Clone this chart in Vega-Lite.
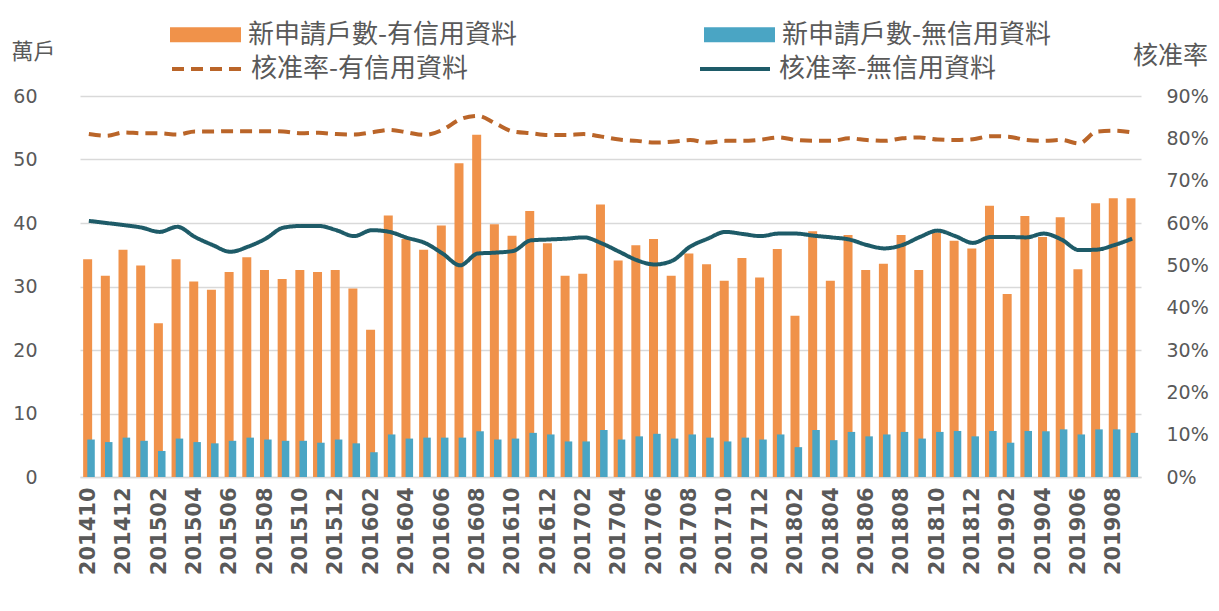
{
  "$schema": "https://vega.github.io/schema/vega-lite/v6.json",
  "width": 1061,
  "height": 381,
  "autosize": {"type": "none"},
  "padding": {"left": 80, "top": 96, "right": 78, "bottom": 134},
  "background": "white",
  "config": {"view": {"stroke": null}, "font": "Noto Sans CJK TC"},
  "data": {"values": [
    {"month":"201410","credit_apps":34.3,"nocredit_apps":5.9,"credit_rate":81.0,"nocredit_rate":60.5},
    {"month":"201411","credit_apps":31.7,"nocredit_apps":5.5,"credit_rate":80.6,"nocredit_rate":60.0},
    {"month":"201412","credit_apps":35.8,"nocredit_apps":6.2,"credit_rate":81.4,"nocredit_rate":59.5},
    {"month":"201501","credit_apps":33.3,"nocredit_apps":5.7,"credit_rate":81.2,"nocredit_rate":58.9},
    {"month":"201502","credit_apps":24.2,"nocredit_apps":4.1,"credit_rate":81.2,"nocredit_rate":57.9},
    {"month":"201503","credit_apps":34.3,"nocredit_apps":6.05,"credit_rate":80.9,"nocredit_rate":59.1},
    {"month":"201504","credit_apps":30.8,"nocredit_apps":5.5,"credit_rate":81.6,"nocredit_rate":56.7},
    {"month":"201505","credit_apps":29.5,"nocredit_apps":5.3,"credit_rate":81.6,"nocredit_rate":54.8},
    {"month":"201506","credit_apps":32.3,"nocredit_apps":5.7,"credit_rate":81.7,"nocredit_rate":53.2},
    {"month":"201507","credit_apps":34.6,"nocredit_apps":6.2,"credit_rate":81.7,"nocredit_rate":54.4},
    {"month":"201508","credit_apps":32.6,"nocredit_apps":5.9,"credit_rate":81.7,"nocredit_rate":56.3},
    {"month":"201509","credit_apps":31.2,"nocredit_apps":5.7,"credit_rate":81.6,"nocredit_rate":58.9},
    {"month":"201510","credit_apps":32.6,"nocredit_apps":5.7,"credit_rate":81.2,"nocredit_rate":59.3},
    {"month":"201511","credit_apps":32.3,"nocredit_apps":5.4,"credit_rate":81.3,"nocredit_rate":59.3},
    {"month":"201512","credit_apps":32.6,"nocredit_apps":5.9,"credit_rate":81.0,"nocredit_rate":58.3},
    {"month":"201601","credit_apps":29.7,"nocredit_apps":5.3,"credit_rate":80.9,"nocredit_rate":56.9},
    {"month":"201602","credit_apps":23.2,"nocredit_apps":3.9,"credit_rate":81.4,"nocredit_rate":58.3},
    {"month":"201603","credit_apps":41.2,"nocredit_apps":6.7,"credit_rate":82.0,"nocredit_rate":57.9},
    {"month":"201604","credit_apps":37.5,"nocredit_apps":6.05,"credit_rate":81.4,"nocredit_rate":56.5},
    {"month":"201605","credit_apps":35.8,"nocredit_apps":6.2,"credit_rate":80.8,"nocredit_rate":55.3},
    {"month":"201606","credit_apps":39.6,"nocredit_apps":6.2,"credit_rate":82.0,"nocredit_rate":52.8},
    {"month":"201607","credit_apps":49.4,"nocredit_apps":6.2,"credit_rate":84.5,"nocredit_rate":50.0},
    {"month":"201608","credit_apps":53.9,"nocredit_apps":7.2,"credit_rate":85.3,"nocredit_rate":52.8},
    {"month":"201609","credit_apps":39.8,"nocredit_apps":5.9,"credit_rate":83.5,"nocredit_rate":53.0},
    {"month":"201610","credit_apps":38.0,"nocredit_apps":6.05,"credit_rate":81.6,"nocredit_rate":53.4},
    {"month":"201611","credit_apps":41.9,"nocredit_apps":6.95,"credit_rate":81.2,"nocredit_rate":55.9},
    {"month":"201612","credit_apps":36.8,"nocredit_apps":6.7,"credit_rate":80.8,"nocredit_rate":56.1},
    {"month":"201701","credit_apps":31.7,"nocredit_apps":5.6,"credit_rate":80.8,"nocredit_rate":56.3},
    {"month":"201702","credit_apps":32.0,"nocredit_apps":5.6,"credit_rate":81.0,"nocredit_rate":56.6},
    {"month":"201703","credit_apps":42.9,"nocredit_apps":7.4,"credit_rate":80.4,"nocredit_rate":55.2},
    {"month":"201704","credit_apps":34.1,"nocredit_apps":5.9,"credit_rate":79.7,"nocredit_rate":53.2},
    {"month":"201705","credit_apps":36.5,"nocredit_apps":6.4,"credit_rate":79.4,"nocredit_rate":51.2},
    {"month":"201706","credit_apps":37.5,"nocredit_apps":6.8,"credit_rate":79.0,"nocredit_rate":50.2},
    {"month":"201707","credit_apps":31.7,"nocredit_apps":6.05,"credit_rate":79.2,"nocredit_rate":51.1},
    {"month":"201708","credit_apps":35.2,"nocredit_apps":6.7,"credit_rate":79.6,"nocredit_rate":54.4},
    {"month":"201709","credit_apps":33.5,"nocredit_apps":6.2,"credit_rate":79.0,"nocredit_rate":56.3},
    {"month":"201710","credit_apps":30.9,"nocredit_apps":5.6,"credit_rate":79.4,"nocredit_rate":57.9},
    {"month":"201711","credit_apps":34.5,"nocredit_apps":6.2,"credit_rate":79.4,"nocredit_rate":57.4},
    {"month":"201712","credit_apps":31.4,"nocredit_apps":5.9,"credit_rate":79.7,"nocredit_rate":56.9},
    {"month":"201801","credit_apps":35.9,"nocredit_apps":6.7,"credit_rate":80.2,"nocredit_rate":57.5},
    {"month":"201802","credit_apps":25.4,"nocredit_apps":4.7,"credit_rate":79.6,"nocredit_rate":57.5},
    {"month":"201803","credit_apps":38.7,"nocredit_apps":7.4,"credit_rate":79.4,"nocredit_rate":57.0},
    {"month":"201804","credit_apps":30.9,"nocredit_apps":5.8,"credit_rate":79.4,"nocredit_rate":56.6},
    {"month":"201805","credit_apps":38.1,"nocredit_apps":7.1,"credit_rate":80.0,"nocredit_rate":56.1},
    {"month":"201806","credit_apps":32.6,"nocredit_apps":6.4,"credit_rate":79.6,"nocredit_rate":54.8},
    {"month":"201807","credit_apps":33.6,"nocredit_apps":6.7,"credit_rate":79.4,"nocredit_rate":54.0},
    {"month":"201808","credit_apps":38.1,"nocredit_apps":7.1,"credit_rate":80.0,"nocredit_rate":54.8},
    {"month":"201809","credit_apps":32.6,"nocredit_apps":6.05,"credit_rate":80.2,"nocredit_rate":56.7},
    {"month":"201810","credit_apps":38.5,"nocredit_apps":7.1,"credit_rate":79.7,"nocredit_rate":58.2},
    {"month":"201811","credit_apps":37.2,"nocredit_apps":7.25,"credit_rate":79.6,"nocredit_rate":56.9},
    {"month":"201812","credit_apps":36.0,"nocredit_apps":6.4,"credit_rate":79.8,"nocredit_rate":55.3},
    {"month":"201901","credit_apps":42.7,"nocredit_apps":7.25,"credit_rate":80.5,"nocredit_rate":56.7},
    {"month":"201902","credit_apps":28.8,"nocredit_apps":5.4,"credit_rate":80.4,"nocredit_rate":56.7},
    {"month":"201903","credit_apps":41.1,"nocredit_apps":7.25,"credit_rate":79.6,"nocredit_rate":56.6},
    {"month":"201904","credit_apps":37.8,"nocredit_apps":7.2,"credit_rate":79.4,"nocredit_rate":57.5},
    {"month":"201905","credit_apps":40.9,"nocredit_apps":7.5,"credit_rate":79.6,"nocredit_rate":56.1},
    {"month":"201906","credit_apps":32.7,"nocredit_apps":6.7,"credit_rate":78.8,"nocredit_rate":53.6},
    {"month":"201907","credit_apps":43.1,"nocredit_apps":7.5,"credit_rate":81.6,"nocredit_rate":53.7},
    {"month":"201908","credit_apps":43.9,"nocredit_apps":7.5,"credit_rate":81.8,"nocredit_rate":54.8},
    {"month":"201909","credit_apps":43.9,"nocredit_apps":6.95,"credit_rate":81.4,"nocredit_rate":56.3}
  ]},
  "encoding": {
    "x": {
      "field": "month", "type": "ordinal",
      "scale": {"type": "band", "paddingInner": 0, "paddingOuter": 0},
      "axis": {
        "title": null,
        "values": ["201410","201412","201502","201504","201506","201508","201510","201512","201602","201604","201606","201608","201610","201612","201702","201704","201706","201708","201710","201712","201802","201804","201806","201808","201810","201812","201902","201904","201906","201908"],
        "labelAngle": -90, "labelOverlap": false,
        "labelFont": "DejaVu Sans", "labelFontWeight": "bold", "labelFontSize": 21, "labelColor": "#595959",
        "labelPadding": 10, "ticks": false, "domain": true, "domainColor": "#D9D9D9", "domainWidth": 1.5, "grid": false
      }
    }
  },
  "layer": [
    {
      "layer": [
        {
          "transform": [{"fold": ["credit_apps"], "as": ["series", "value"]}],
          "mark": {"type": "bar", "width": 9, "xOffset": -1.2},
          "encoding": {
            "y": {
              "field": "value", "type": "quantitative",
              "scale": {"domain": [0, 60], "nice": false},
              "axis": {
                "title": "萬戶", "titleAngle": 0, "titleX": -47, "titleY": -45, "titleAlign": "center", "titleBaseline": "middle",
                "titleFont": "Noto Sans CJK TC", "titleFontSize": 22, "titleFontWeight": "normal", "titleColor": "#595959",
                "values": [0, 10, 20, 30, 40, 50, 60],
                "labelFont": "DejaVu Sans", "labelFontSize": 19, "labelColor": "#595959", "labelPadding": 43,
                "ticks": false, "domain": false, "grid": true, "gridColor": "#D9D9D9", "gridWidth": 1.5
              }
            },
            "fill": {
              "field": "series", "type": "nominal",
              "scale": {"domain": ["credit_apps", "nocredit_apps"], "range": ["#F0924A", "#4AA5C4"]},
              "legend": {
                "title": null, "orient": "none", "legendX": 90, "legendY": -97, "direction": "horizontal", "columns": 2,
                "columnPadding": 186, "symbolType": "M-1,-0.21H1V0.21H-1Z", "symbolSize": 5041, "symbolStrokeWidth": 0,
                "labelFont": "Noto Sans CJK TC", "labelFontSize": 26, "labelColor": "#595959", "labelOffset": 7, "labelLimit": 500,
                "labelExpr": "datum.label == 'credit_apps' ? '新申請戶數-有信用資料' : '新申請戶數-無信用資料'"
              }
            }
          }
        },
        {
          "transform": [{"fold": ["nocredit_apps"], "as": ["series", "value"]}],
          "mark": {"type": "bar", "width": 7.5, "xOffset": 2.2},
          "encoding": {
            "y": {"field": "value", "type": "quantitative"},
            "fill": {"field": "series", "type": "nominal"}
          }
        }
      ]
    },
    {
      "layer": [
        {
          "transform": [{"fold": ["credit_rate"], "as": ["series", "value"]}],
          "mark": {"type": "line", "interpolate": "monotone", "strokeWidth": 4},
          "encoding": {
            "y": {
              "field": "value", "type": "quantitative",
              "scale": {"domain": [0, 90], "nice": false},
              "axis": {
                "orient": "right",
                "title": "核准率", "titleAngle": 0, "titleX": 29, "titleY": -41, "titleAlign": "center", "titleBaseline": "middle",
                "titleFont": "Noto Sans CJK TC", "titleFontSize": 25, "titleFontWeight": "normal", "titleColor": "#595959",
                "values": [0, 10, 20, 30, 40, 50, 60, 70, 80, 90],
                "labelExpr": "datum.value + '%'",
                "labelFont": "DejaVu Sans", "labelFontSize": 19, "labelColor": "#595959", "labelPadding": 25,
                "ticks": false, "domain": false, "grid": false
              }
            },
            "stroke": {
              "field": "series", "type": "nominal",
              "scale": {"domain": ["credit_rate", "nocredit_rate"], "range": ["#BA6529", "#1E5B68"]},
              "legend": {
                "title": null, "orient": "none", "legendX": 90, "legendY": -64, "direction": "horizontal", "columns": 2,
                "columnPadding": 223, "symbolType": "stroke", "symbolSize": 4900, "symbolStrokeWidth": 4,
                "labelFont": "Noto Sans CJK TC", "labelFontSize": 26, "labelColor": "#595959", "labelOffset": 7, "labelLimit": 500,
                "labelExpr": "datum.label == 'credit_rate' ? '核准率-有信用資料' : '核准率-無信用資料'"
              }
            },
            "strokeDash": {
              "field": "series", "type": "nominal",
              "scale": {"domain": ["credit_rate", "nocredit_rate"], "range": [[12, 7], [1, 0]]},
              "legend": {
                "title": null, "orient": "none", "legendX": 90, "legendY": -64, "direction": "horizontal", "columns": 2,
                "columnPadding": 223, "symbolType": "stroke", "symbolSize": 4900, "symbolStrokeWidth": 4,
                "labelFont": "Noto Sans CJK TC", "labelFontSize": 26, "labelColor": "#595959", "labelOffset": 7, "labelLimit": 500,
                "labelExpr": "datum.label == 'credit_rate' ? '核准率-有信用資料' : '核准率-無信用資料'"
              }
            }
          }
        },
        {
          "transform": [{"fold": ["nocredit_rate"], "as": ["series", "value"]}],
          "mark": {"type": "line", "interpolate": "monotone", "strokeWidth": 4},
          "encoding": {
            "y": {"field": "value", "type": "quantitative"},
            "stroke": {"field": "series", "type": "nominal"},
            "strokeDash": {"field": "series", "type": "nominal"}
          }
        }
      ]
    }
  ],
  "resolve": {"scale": {"y": "independent"}}
}
